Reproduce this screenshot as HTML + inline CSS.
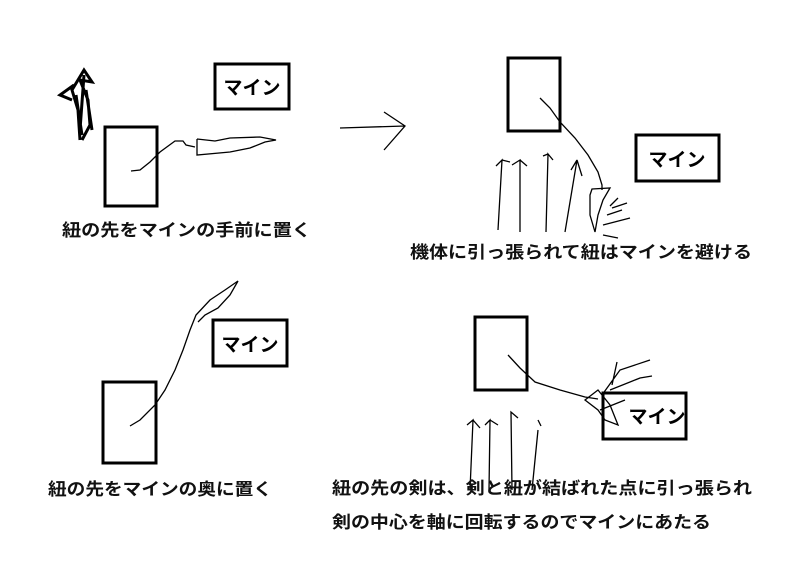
<!DOCTYPE html>
<html><head><meta charset="utf-8"><style>
html,body{margin:0;padding:0;background:#fff;width:792px;height:561px;overflow:hidden}
svg{display:block}
.t{font-family:"Liberation Sans","Noto Sans CJK JP",sans-serif;font-weight:bold;font-size:17px;fill:#111}
.m{font-family:"Liberation Sans","Noto Sans CJK JP",sans-serif;font-weight:bold;font-size:19px;fill:#000}
</style></head><body>
<svg width="792" height="561" viewBox="0 0 792 561" xmlns="http://www.w3.org/2000/svg">
<g fill="none" stroke="#000" stroke-width="3">
<rect x="215" y="64" width="74" height="45"/>
<rect x="105" y="127" width="52" height="79"/>
<rect x="508" y="58" width="52" height="73"/>
<rect x="636" y="135" width="83" height="46"/>
<rect x="213" y="320" width="74" height="46"/>
<rect x="103" y="382" width="53" height="81"/>
<rect x="475" y="317" width="52" height="73"/>
<rect x="603" y="393" width="83" height="46"/>
</g>
<g fill="none" stroke="#000" stroke-width="1.3">
<path d="M131 171 L140 170 L150 162 L160 152 L175 141 L183 141 L186 145 L195 147"/>
<path d="M197 139 L197 155 L230 152 L250 148 L265 142 L276 140 L260 137 L230 138 L215 141 L197 139"/>
<path d="M80 140 L78 110 L72 90 L84 70 L92 82 L80 80 L88 100 L90 125 L82 140 M74 85 L60 95 L72 100 M76 95 L82 135 M86 90 L92 130 M84 75 L80 130" stroke-width="3"/>
<path d="M340 128 L405 126 M384 112 L405 126 L384 150"/>
<path d="M540 98 L550 108 L560 122 L575 138 L588 155 L598 172 L602 185 L602 190"/>
<path d="M592 189 L610 188 L603 200 L598 215 L595 232 L590 215 L590 195 Z"/>
<path d="M618 198 L610 206 M612 208 L627 203 M607 215 L622 210 M603 225 L630 218 M603 235 L618 238"/>
<path d="M498 230 L502 160 L496 166 M502 160 L510 162 M520 232 L520 160 L512 165 M520 160 L527 166 M546 232 L548 154 L553 160 M548 154 L543 156 M565 232 L577 160 L582 176 M577 160 L571 170"/>
<path d="M130 426 L140 420 L155 405 L165 390 L175 370 L183 350 L190 330 L196 315 L210 300 L225 290 L238 281 L230 295 L218 308 L205 315 L198 322"/>
<path d="M508 355 L520 368 L535 382 L560 390 L585 397 L598 399"/>
<path d="M585 400 L598 390 L610 405 L618 425 L605 420 L598 410 Z"/>
<path d="M602 395 L620 370 L650 360 M610 390 L640 378 L652 376 M612 385 L617 362 M600 410 L625 400"/>
<path d="M470 490 L473 420 L467 425 M473 420 L480 428 M489 490 L490 420 L485 425 M490 420 L498 425 M512 490 L511 412 L518 418 M532 490 L538 430 M541 426 L538 420"/>
</g>
<g class="m">
<text x="252" y="94" text-anchor="middle">マイン</text>
<text x="677" y="166" text-anchor="middle">マイン</text>
<text x="250" y="351" text-anchor="middle">マイン</text>
<text x="657" y="423" text-anchor="middle">マイン</text>
</g>
<g class="t">
<text x="62" y="236" textLength="249" lengthAdjust="spacingAndGlyphs">紐の先をマインの手前に置く</text>
<text x="410" y="258" textLength="342" lengthAdjust="spacingAndGlyphs">機体に引っ張られて紐はマインを避ける</text>
<text x="48" y="495" textLength="224" lengthAdjust="spacingAndGlyphs">紐の先をマインの奥に置く</text>
<text x="332" y="494" textLength="420" lengthAdjust="spacingAndGlyphs">紐の先の剣は、剣と紐が結ばれた点に引っ張られ</text>
<text x="332" y="528" textLength="379" lengthAdjust="spacingAndGlyphs">剣の中心を軸に回転するのでマインにあたる</text>
</g>
</svg>
</body></html>
